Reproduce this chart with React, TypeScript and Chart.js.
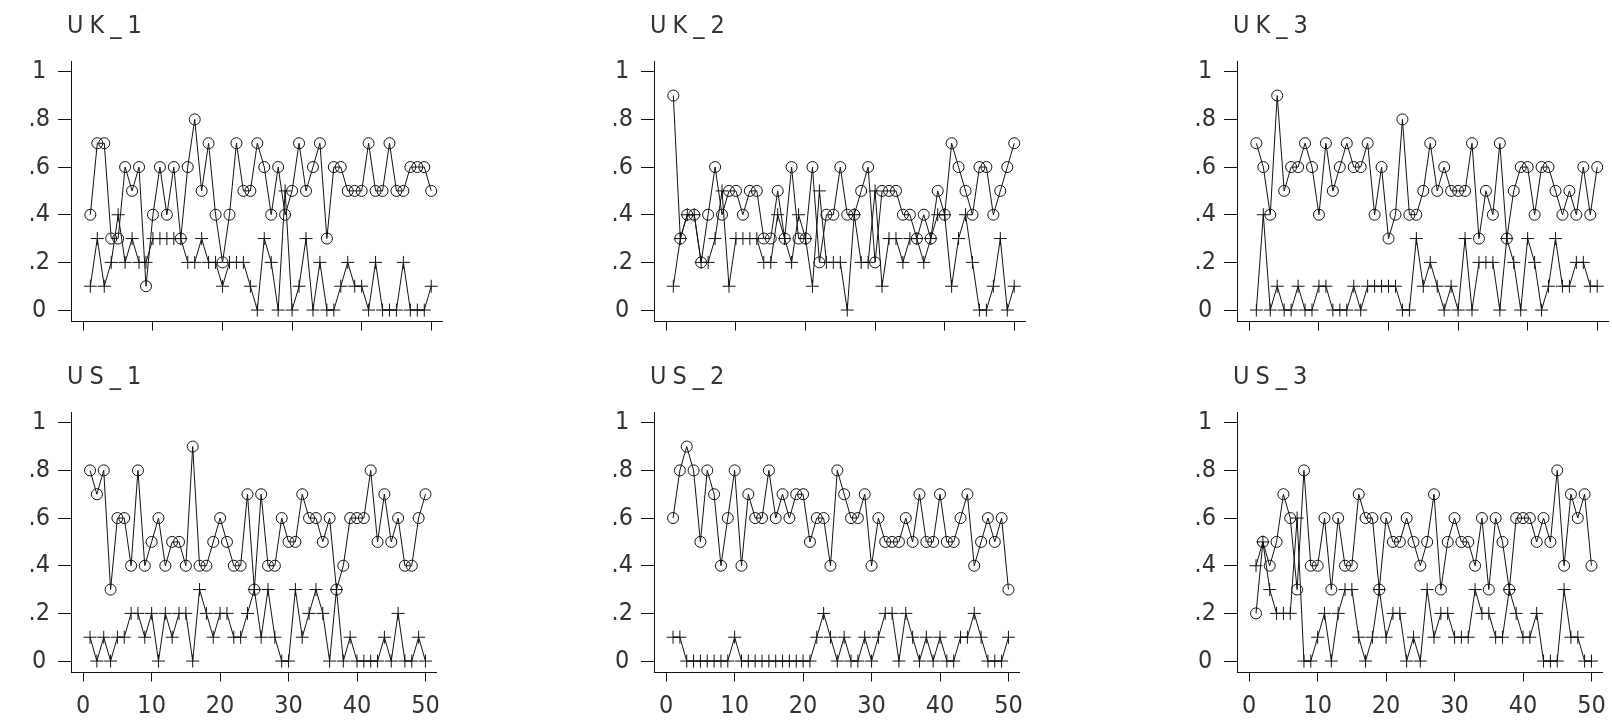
import React, { useEffect, useRef } from "react";
import { Chart, registerables } from "chart.js";
Chart.register(...registerables);

const obsIndex = [1,2,3,4,5,6,7,8,9,10,11,12,13,14,15,16,17,18,19,20,21,22,23,24,25,26,27,28,29,30,31,32,33,34,35,36,37,38,39,40,41,42,43,44,45,46,47,48,49,50];

const uk1Circles = [0.4,0.7,0.7,0.3,0.3,0.6,0.5,0.6,0.1,0.4, 0.6,0.4,0.6,0.3,0.6,0.8,0.5,0.7,0.4,0.2, 0.4,0.7,0.5,0.5,0.7,0.6,0.4,0.6,0.4,0.5, 0.7,0.5,0.6,0.7,0.3,0.6,0.6,0.5,0.5,0.5, 0.7,0.5,0.5,0.7,0.5,0.5,0.6,0.6,0.6,0.5];
const uk1Plus = [0.1,0.3,0.1,0.2,0.4,0.2,0.3,0.2,0.2,0.3, 0.3,0.3,0.3,0.3,0.2,0.2,0.3,0.2,0.2,0.1, 0.2,0.2,0.2,0.1,0,0.3,0.2,0,0.5,0, 0.1,0.3,0,0.2,0,0,0.1,0.2,0.1,0.1, 0,0.2,0,0,0,0.2,0,0,0,0.1];

const uk2Circles = [0.9,0.3,0.4,0.4,0.2,0.4,0.6,0.4,0.5,0.5, 0.4,0.5,0.5,0.3,0.3,0.5,0.3,0.6,0.3,0.3, 0.6,0.2,0.4,0.4,0.6,0.4,0.4,0.5,0.6,0.2, 0.5,0.5,0.5,0.4,0.4,0.3,0.4,0.3,0.5,0.4, 0.7,0.6,0.5,0.4,0.6,0.6,0.4,0.5,0.6,0.7];
const uk2Plus = [0.1,0.3,0.4,0.4,0.2,0.2,0.3,0.5,0.1,0.3, 0.3,0.3,0.3,0.2,0.2,0.4,0.3,0.2,0.4,0.3, 0.1,0.5,0.2,0.2,0.2,0,0.4,0.2,0.2,0.5, 0.1,0.3,0.3,0.2,0.3,0.3,0.2,0.3,0.4,0.4, 0.1,0.3,0.4,0.2,0,0,0.1,0.3,0,0.1];

const uk3Circles = [0.7,0.6,0.4,0.9,0.5,0.6,0.6,0.7,0.6,0.4, 0.7,0.5,0.6,0.7,0.6,0.6,0.7,0.4,0.6,0.3, 0.4,0.8,0.4,0.4,0.5,0.7,0.5,0.6,0.5,0.5, 0.5,0.7,0.3,0.5,0.4,0.7,0.3,0.5,0.6,0.6, 0.4,0.6,0.6,0.5,0.4,0.5,0.4,0.6,0.4,0.6];
const uk3Plus = [0,0.4,0,0.1,0,0,0.1,0,0,0.1, 0.1,0,0,0,0.1,0,0.1,0.1,0.1,0.1, 0.1,0,0,0.3,0.1,0.2,0.1,0,0.1,0, 0.3,0,0.2,0.2,0.2,0,0.3,0.2,0,0.3, 0.2,0,0.1,0.3,0.1,0.1,0.2,0.2,0.1,0.1];

const us1Circles = [0.8,0.7,0.8,0.3,0.6,0.6,0.4,0.8,0.4,0.5, 0.6,0.4,0.5,0.5,0.4,0.9,0.4,0.4,0.5,0.6, 0.5,0.4,0.4,0.7,0.3,0.7,0.4,0.4,0.6,0.5, 0.5,0.7,0.6,0.6,0.5,0.6,0.3,0.4,0.6,0.6, 0.6,0.8,0.5,0.7,0.5,0.6,0.4,0.4,0.6,0.7];
const us1Plus = [0.1,0,0.1,0,0.1,0.1,0.2,0.2,0.1,0.2, 0,0.2,0.1,0.2,0.2,0,0.3,0.2,0.1,0.2, 0.2,0.1,0.1,0.2,0.3,0.1,0.3,0.1,0,0, 0.3,0.1,0.2,0.3,0.2,0,0.3,0,0.1,0, 0,0,0,0.1,0,0.2,0,0,0.1,0];

const us2Circles = [0.6,0.8,0.9,0.8,0.5,0.8,0.7,0.4,0.6,0.8, 0.4,0.7,0.6,0.6,0.8,0.6,0.7,0.6,0.7,0.7, 0.5,0.6,0.6,0.4,0.8,0.7,0.6,0.6,0.7,0.4, 0.6,0.5,0.5,0.5,0.6,0.5,0.7,0.5,0.5,0.7, 0.5,0.5,0.6,0.7,0.4,0.5,0.6,0.5,0.6,0.3];
const us2Plus = [0.1,0.1,0,0,0,0,0,0,0,0.1, 0,0,0,0,0,0,0,0,0,0, 0,0.1,0.2,0.1,0,0.1,0,0,0.1,0, 0.1,0.2,0.2,0,0.2,0.1,0,0.1,0,0.1, 0,0,0.1,0.1,0.2,0.1,0,0,0,0.1];

const us3Circles = [0.2,0.5,0.4,0.5,0.7,0.6,0.3,0.8,0.4,0.4, 0.6,0.3,0.6,0.4,0.4,0.7,0.6,0.6,0.3,0.6, 0.5,0.5,0.6,0.5,0.4,0.5,0.7,0.3,0.5,0.6, 0.5,0.5,0.4,0.6,0.3,0.6,0.5,0.3,0.6,0.6, 0.6,0.5,0.6,0.5,0.8,0.4,0.7,0.6,0.7,0.4];
const us3Plus = [0.4,0.5,0.3,0.2,0.2,0.2,0.6,0,0,0.1, 0.2,0,0.2,0.3,0.3,0.1,0,0.1,0.3,0.1, 0.2,0.2,0,0.1,0,0.3,0.1,0.2,0.2,0.1, 0.1,0.1,0.3,0.2,0.2,0.1,0.1,0.3,0.2,0.1, 0.1,0.2,0,0,0,0.3,0.1,0.1,0,0];

const panelTitles = ["UK_1", "UK_2", "UK_3", "US_1", "US_2", "US_3"];
const xTickValues = [0, 10, 20, 30, 40, 50];
const xTickLabels = ["0", "10", "20", "30", "40", "50"];
const yTickValues = [0, 0.2, 0.4, 0.6, 0.8, 1];
const yTickLabels = ["0", ".2", ".4", ".6", ".8", "1"];

const FONT = "'Liberation Sans Narrow','DejaVu Sans Condensed','DejaVu Sans',sans-serif";
const INK = "#111";
const TEXT = "#333";
const FONT_SIZE = 25;

const CANVAS_W = 450;
const AREA_LEFT = 71;
const AREA_TOP = 61;
const AREA_BOTTOM = 321.5;
const AREA_RIGHT = 443.7;

type PanelProps = {
  title: string;
  circles: number[];
  pluses: number[];
  showX: boolean;
  left: number;
  top: number;
  height: number;
};

function Panel({ title, circles, pluses, showX, left, top, height }: PanelProps) {
  const ref = useRef<HTMLCanvasElement | null>(null);
  useEffect(() => {
    if (!ref.current) return;
    const titlePlugin = {
      id: "panelTitle",
      afterDraw(chart: any) {
        const ctx = chart.ctx;
        ctx.save();
        ctx.font = `${FONT_SIZE}px ${FONT}`;
        ctx.fillStyle = TEXT;
        try { (ctx as any).letterSpacing = "6px"; } catch (e) {}
        ctx.textAlign = "left";
        ctx.textBaseline = "alphabetic";
        ctx.fillText(title, chart.chartArea.left - 4, 33);
        ctx.restore();
      },
    };
    const chart = new Chart(ref.current, {
      type: "line",
      data: {
        datasets: [
          {
            data: obsIndex.map((x, i) => ({ x, y: circles[i] })),
            borderColor: INK,
            borderWidth: 1,
            pointStyle: "circle",
            pointRadius: 5.5,
            pointBorderColor: INK,
            pointBackgroundColor: "rgba(0,0,0,0)",
            pointBorderWidth: 1,
            tension: 0,
            fill: false,
          },
          {
            data: obsIndex.map((x, i) => ({ x, y: pluses[i] })),
            borderColor: INK,
            borderWidth: 1,
            pointStyle: "cross",
            pointRadius: 6.5,
            pointBorderColor: INK,
            pointBorderWidth: 1,
            tension: 0,
            fill: false,
          },
        ],
      },
      options: {
        animation: false,
        responsive: false,
        maintainAspectRatio: false,
        events: [],
        layout: { padding: { top: AREA_TOP, left: 0, right: CANVAS_W - AREA_RIGHT, bottom: 0 } },
        plugins: { legend: { display: false }, tooltip: { enabled: false }, title: { display: false } },
        scales: {
          x: {
            type: "linear",
            min: -1.78,
            max: 51.62,
            afterBuildTicks: (s: any) => { s.ticks = xTickValues.map((v) => ({ value: v })); },
            afterFit: (s: any) => { s.height = height - AREA_BOTTOM; },
            grid: { drawOnChartArea: false, drawTicks: true, tickLength: 9, color: INK, lineWidth: 1 },
            border: { display: true, color: INK, width: 1 },
            ticks: {
              display: showX,
              autoSkip: false,
              maxRotation: 0,
              padding: 10,
              color: TEXT,
              font: { family: FONT, size: FONT_SIZE },
              callback: (v: any) => {
                const i = xTickValues.indexOf(Number(v));
                return i >= 0 ? xTickLabels[i] : "";
              },
            },
          },
          y: {
            type: "linear",
            min: -0.048,
            max: 1.045,
            afterBuildTicks: (s: any) => { s.ticks = yTickValues.map((v) => ({ value: v })); },
            afterFit: (s: any) => { s.width = AREA_LEFT; },
            grid: { drawOnChartArea: false, drawTicks: true, tickLength: 13, color: INK, lineWidth: 1 },
            border: { display: true, color: INK, width: 1 },
            ticks: {
              autoSkip: false,
              crossAlign: "center",
              padding: 8,
              color: TEXT,
              font: { family: FONT, size: FONT_SIZE },
              callback: (v: any) => {
                const i = yTickValues.findIndex((t) => Math.abs(t - Number(v)) < 1e-6);
                return i >= 0 ? yTickLabels[i] : "";
              },
            },
          },
        },
      } as any,
      plugins: [titlePlugin],
    });
    return () => chart.destroy();
  }, []);
  return (
    <canvas
      ref={ref}
      width={CANVAS_W}
      height={height}
      style={{ position: "absolute", left, top, width: CANVAS_W, height }}
    />
  );
}

const colLefts = [0, 583, 1166];
const rowTops = [0, 351];
const rowHeights = [351, 369];

export default function App() {
  const panels = [
    { c: uk1Circles, p: uk1Plus },
    { c: uk2Circles, p: uk2Plus },
    { c: uk3Circles, p: uk3Plus },
    { c: us1Circles, p: us1Plus },
    { c: us2Circles, p: us2Plus },
    { c: us3Circles, p: us3Plus },
  ];
  return (
    <div style={{ position: "absolute", left: 0, top: 0, width: 1612, height: 720, overflow: "hidden", background: "#fff" }}>
      {panels.map((pn, i) => {
        const row = Math.floor(i / 3);
        const col = i % 3;
        return (
          <Panel
            key={i}
            title={panelTitles[i]}
            circles={pn.c}
            pluses={pn.p}
            showX={row === 1}
            left={colLefts[col]}
            top={rowTops[row]}
            height={rowHeights[row]}
          />
        );
      })}
    </div>
  );
}
